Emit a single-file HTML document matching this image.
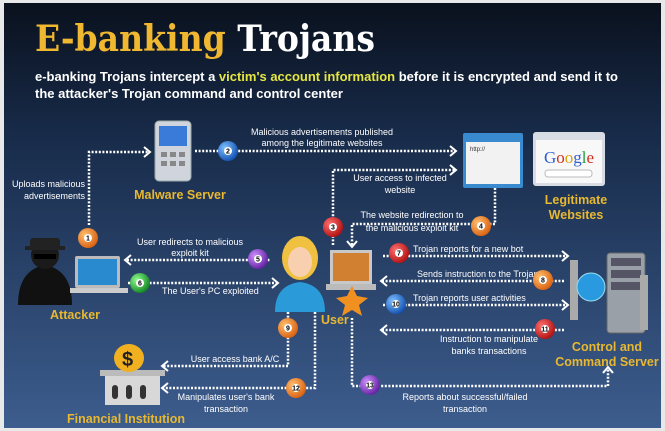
<!DOCTYPE html>
<html><head><meta charset="utf-8"><style>
html,body{margin:0;padding:0;background:#fff}
svg{display:block}
text{font-family:"Liberation Sans",sans-serif}
.s{fill:#fff;font-size:9px}
.y{fill:#e8b830;font-size:12.5px;font-weight:bold}
.l{stroke:#fff;stroke-width:2.5;stroke-dasharray:2 1.6;fill:none}
.a{fill:none;stroke:#fff;stroke-width:2}
</style></head><body>
<svg width="665" height="431" viewBox="0 0 665 431" xmlns="http://www.w3.org/2000/svg">
<defs>
<linearGradient id="bg" x1="0" y1="0" x2="0" y2="1">
<stop offset="0" stop-color="#0a111d"/><stop offset="0.3" stop-color="#172a48"/><stop offset="1" stop-color="#3d5d8e"/></linearGradient>
<radialGradient id="o" cx="0.35" cy="0.35" r="0.7"><stop offset="0" stop-color="#ffc070"/><stop offset="1" stop-color="#d86010"/></radialGradient>
<radialGradient id="r" cx="0.35" cy="0.35" r="0.7"><stop offset="0" stop-color="#ff7070"/><stop offset="1" stop-color="#b01010"/></radialGradient>
<radialGradient id="b" cx="0.35" cy="0.35" r="0.7"><stop offset="0" stop-color="#80c0ff"/><stop offset="1" stop-color="#1050b0"/></radialGradient>
<radialGradient id="p" cx="0.35" cy="0.35" r="0.7"><stop offset="0" stop-color="#d090ff"/><stop offset="1" stop-color="#6020a0"/></radialGradient>
<radialGradient id="g" cx="0.35" cy="0.35" r="0.7"><stop offset="0" stop-color="#90ff90"/><stop offset="1" stop-color="#108020"/></radialGradient>
</defs>
<rect width="665" height="431" fill="#e8e8e8"/>
<rect x="4" y="3" width="657" height="425" fill="url(#bg)"/>
<text x="35" y="51" font-size="36" font-weight="bold" fill="#f0b830" style="font-family:'DejaVu Serif',serif" textLength="340" lengthAdjust="spacingAndGlyphs">E-banking <tspan fill="#fff">Trojans</tspan></text>
<text x="35" y="81" fill="#fff" font-size="13" font-weight="bold" textLength="583">e-banking Trojans intercept a <tspan fill="#e6e640">victim's account information</tspan> before it is encrypted and send it to</text>
<text x="35" y="98" fill="#fff" font-size="13" font-weight="bold">the attacker's Trojan command and control center</text>

<path class="l" d="M89 225 V152 H148"/><path class="a" d="M144 147 L150 152 L144 157"/>
<path class="l" d="M195 151 H455"/><path class="a" d="M450 146 L456 151 L450 156"/>
<path class="l" d="M333 245 V170 H455"/><path class="a" d="M450 165 L456 170 L450 175"/>
<path class="l" d="M495 188 V224 H352 V246"/><path class="a" d="M347 241 L352 247 L357 241"/>
<path class="l" d="M127 260 H270"/><path class="a" d="M131 255 L125 260 L131 265"/>
<path class="l" d="M128 283 H277"/><path class="a" d="M272 278 L278 283 L272 288"/>
<path class="l" d="M383 256 H567"/><path class="a" d="M562 251 L568 256 L562 261"/>
<path class="l" d="M382 281 H565"/><path class="a" d="M387 276 L381 281 L387 286"/>
<path class="l" d="M383 305 H567"/><path class="a" d="M562 300 L568 305 L562 310"/>
<path class="l" d="M382 330 H565"/><path class="a" d="M387 325 L381 330 L387 335"/>
<path class="l" d="M288 312 V366 H163"/><path class="a" d="M168 361 L162 366 L168 371"/>
<path class="l" d="M315 312 V388 H163"/><path class="a" d="M168 383 L162 388 L168 393"/>
<path class="l" d="M352 318 V386 H608 V368"/><path class="a" d="M603 373 L608 367 L613 373"/>

<g class="s">
<text x="85" y="187" text-anchor="end">Uploads malicious</text>
<text x="85" y="199" text-anchor="end">advertisements</text>
<text x="322" y="135" text-anchor="middle">Malicious advertisements published</text>
<text x="322" y="146" text-anchor="middle">among the legitimate websites</text>
<text x="400" y="181" text-anchor="middle">User access to infected</text>
<text x="400" y="193" text-anchor="middle">website</text>
<text x="412" y="218" text-anchor="middle">The website redirection to</text>
<text x="412" y="231" text-anchor="middle">the malicious exploit kit</text>
<text x="190" y="245" text-anchor="middle">User redirects to malicious</text>
<text x="190" y="256" text-anchor="middle">exploit kit</text>
<text x="162" y="294">The User's PC exploited</text>
<text x="413" y="252">Trojan reports for a new bot</text>
<text x="417" y="277">Sends instruction to the Trojan</text>
<text x="413" y="301">Trojan reports user activities</text>
<text x="489" y="342" text-anchor="middle">Instruction to manipulate</text>
<text x="489" y="354" text-anchor="middle">banks transactions</text>
<text x="235" y="362" text-anchor="middle">User access bank A/C</text>
<text x="226" y="400" text-anchor="middle">Manipulates user's bank</text>
<text x="226" y="412" text-anchor="middle">transaction</text>
<text x="465" y="400" text-anchor="middle">Reports about successful/failed</text>
<text x="465" y="412" text-anchor="middle">transaction</text>
</g>
<g class="y">
<text x="180" y="199" text-anchor="middle">Malware Server</text>
<text x="576" y="204" text-anchor="middle">Legitimate</text>
<text x="576" y="219" text-anchor="middle">Websites</text>
<text x="50" y="319">Attacker</text>
<text x="321" y="324">User</text>
<text x="607" y="351" text-anchor="middle">Control and</text>
<text x="607" y="366" text-anchor="middle">Command Server</text>
<text x="67" y="423">Financial Institution</text>
</g>

<rect x="155" y="121" width="36" height="60" rx="4" fill="#d0d4dc" stroke="#9aa" />
<rect x="159" y="126" width="28" height="20" fill="#3a7ad8"/>
<g fill="#888"><rect x="161" y="152" width="6" height="5"/><rect x="170" y="152" width="6" height="5"/><rect x="179" y="152" width="6" height="5"/><rect x="161" y="161" width="6" height="5"/><rect x="170" y="161" width="6" height="5"/><rect x="179" y="161" width="6" height="5"/></g>
<rect x="463" y="133" width="60" height="55" rx="2" fill="#3a8ad0"/><rect x="466" y="142" width="54" height="42" fill="#f2f2f2"/>
<text x="470" y="151" font-size="6" fill="#333">http://</text>
<rect x="533" y="132" width="72" height="54" rx="3" fill="#d8dce4"/><rect x="536" y="140" width="66" height="43" fill="#f8f8f8"/>
<text x="544" y="163" font-size="17" style="font-family:'Liberation Serif',serif"><tspan fill="#3060d0">G</tspan><tspan fill="#d03020">o</tspan><tspan fill="#e0a010">o</tspan><tspan fill="#3060d0">g</tspan><tspan fill="#20a040">l</tspan><tspan fill="#d03020">e</tspan></text>
<rect x="545" y="170" width="47" height="7" rx="3" fill="#fff" stroke="#bbb"/>
<path d="M18 305 Q18 270 45 265 Q72 270 72 305Z" fill="#111"/>
<circle cx="45" cy="255" r="14" fill="#1a1a1a"/>
<rect x="30" y="238" width="30" height="10" rx="3" fill="#222"/><rect x="25" y="246" width="40" height="4" fill="#222"/>
<rect x="34" y="254" width="22" height="5" fill="#000"/>
<rect x="75" y="256" width="45" height="32" rx="2" fill="#bbb"/><rect x="78" y="259" width="39" height="26" fill="#2a8ad0"/>
<rect x="70" y="288" width="58" height="5" fill="#ccc"/>
<path d="M275 312 Q275 285 300 282 Q325 285 325 312Z" fill="#2a9ad8"/>
<ellipse cx="300" cy="258" rx="18" ry="22" fill="#f0c040"/>
<ellipse cx="300" cy="262" rx="12" ry="15" fill="#f8d0b0"/>
<rect x="330" y="250" width="42" height="34" fill="#c8c8c8"/><rect x="333" y="253" width="36" height="28" fill="#d08030"/>
<rect x="326" y="284" width="50" height="6" fill="#bbb"/>
<polygon points="352,286 357,296 368,298 359,305 362,316 352,310 342,316 345,305 336,298 347,296" fill="#f09020"/>
<rect x="607" y="253" width="38" height="80" rx="3" fill="#9aa0a8" stroke="#666"/>
<rect x="611" y="258" width="30" height="8" fill="#556"/><rect x="611" y="270" width="30" height="8" fill="#556"/><rect x="611" y="282" width="30" height="8" fill="#556"/>
<rect x="570" y="260" width="8" height="60" fill="#aaa"/><rect x="640" y="275" width="8" height="55" fill="#aaa"/>
<circle cx="591" cy="287" r="14" fill="#2a9ae0" stroke="#9de" />
<rect x="105" y="375" width="55" height="30" fill="#d8d8d8"/><rect x="100" y="370" width="65" height="6" fill="#bbb"/>
<rect x="112" y="385" width="6" height="14" rx="3" fill="#333"/><rect x="126" y="385" width="6" height="14" rx="3" fill="#333"/><rect x="140" y="385" width="6" height="14" rx="3" fill="#333"/>
<ellipse cx="129" cy="358" rx="15" ry="14" fill="#f0b020"/><text x="122" y="366" font-size="20" font-weight="bold" fill="#222">$</text>

<g font-size="7" font-weight="bold" text-anchor="middle">
<g transform="translate(88,238)"><circle r="10" fill="url(#o)"/><circle r="4" fill="#fff"/><text y="2.5">1</text></g>
<g transform="translate(228,151)"><circle r="10" fill="url(#b)"/><circle r="4" fill="#fff"/><text y="2.5">2</text></g>
<g transform="translate(333,227)"><circle r="10" fill="url(#r)"/><circle r="4" fill="#fff"/><text y="2.5">3</text></g>
<g transform="translate(481,226)"><circle r="10" fill="url(#o)"/><circle r="4" fill="#fff"/><text y="2.5">4</text></g>
<g transform="translate(258,259)"><circle r="10" fill="url(#p)"/><circle r="4" fill="#fff"/><text y="2.5">5</text></g>
<g transform="translate(140,283)"><circle r="10" fill="url(#g)"/><circle r="4" fill="#fff"/><text y="2.5">6</text></g>
<g transform="translate(399,253)"><circle r="10" fill="url(#r)"/><circle r="4" fill="#fff"/><text y="2.5">7</text></g>
<g transform="translate(543,280)"><circle r="10" fill="url(#o)"/><circle r="4" fill="#fff"/><text y="2.5">8</text></g>
<g transform="translate(288,328)"><circle r="10" fill="url(#o)"/><circle r="4" fill="#fff"/><text y="2.5">9</text></g>
<g transform="translate(396,304)"><circle r="10" fill="url(#b)"/><circle r="4" fill="#fff"/><text y="2.5">10</text></g>
<g transform="translate(545,329)"><circle r="10" fill="url(#r)"/><circle r="4" fill="#fff"/><text y="2.5">11</text></g>
<g transform="translate(296,388)"><circle r="10" fill="url(#o)"/><circle r="4" fill="#fff"/><text y="2.5">12</text></g>
<g transform="translate(370,385)"><circle r="10" fill="url(#p)"/><circle r="4" fill="#fff"/><text y="2.5">13</text></g>
</g>
</svg>
</body></html>
